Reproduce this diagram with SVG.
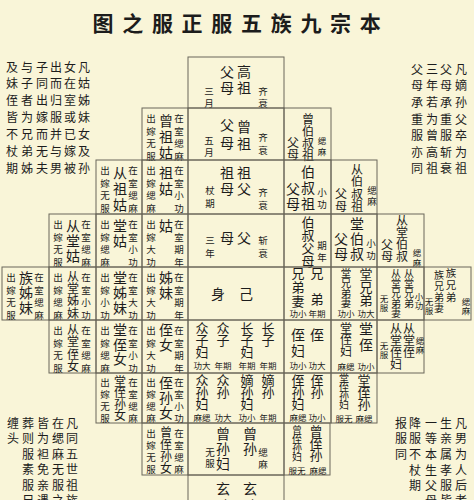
<svg xmlns="http://www.w3.org/2000/svg" width="474" height="500" viewBox="0 0 474 500">
<style>
.c{fill:none;stroke:#6a675a;stroke-width:1}
text{font-family:"Noto Sans CJK SC","Noto Sans CJK TC",sans-serif;fill:#1c1c1c;text-anchor:middle;dominant-baseline:central}
.ti{font-size:21px;font-weight:700}
.b{font-size:14px}
.k{font-size:13px}
.m{font-size:12px}
.q{font-size:10.5px}
.r{font-size:10px}
.s{font-size:9.5px}
.h{font-size:8.5px}
.n{font-size:12px}
</style>
<rect width="474" height="500" fill="#F9F5D8"/>
<text class="ti" x="103 132.7 162.4 192.1 221.8 251.5 281.2 310.9 340.6 370.3" y="22 22 22 22 22 22 22 22 22 22">图之服正服五族九宗本</text>

<g id="notes">
<text class="n" x="84 84 84 84 84 84 84" y="66 82.5 99 116 133 150 167">凡姑姊妹女及孙</text>
<text class="n" x="70 70 70 70 70 70 70" y="66 82.5 99 116 133 150 167">女在室或已嫁被</text>
<text class="n" x="56 56 56 56 56 56 56" y="66 82.5 99 116 133 150 167">出而归服并与男</text>
<text class="n" x="42 42 42 42 42 42 42" y="66 82.5 99 116 133 150 167">子同出嫁而无夫</text>
<text class="n" x="27 27 27 27 27 27 27" y="66 82.5 99 116 133 150 167">与子者为兄弟姊</text>
<text class="n" x="12 12 12 12 12 12 12" y="66 82.5 99 116 133 150 167">及妹侄皆不杖期</text>
<text class="n" x="461 461 461 461 461 461 461" y="68 84.5 101 118 134.5 151 167.5">凡嫡孙父卒为祖</text>
<text class="n" x="446 446 446 446 446 446 446" y="68 84.5 101 118 134.5 151 167.5">父母承重服斩衰</text>
<text class="n" x="432 432 432 432 432 432 432" y="68 84.5 101 118 134.5 151 167.5">三年若为曾高祖</text>
<text class="n" x="417 417 417 417 417 417 417" y="68 84.5 101 118 134.5 151 167.5">父母承重服亦同</text>
<text class="n" x="72 72 72 72 72 72" y="422 437.5 453 468.5 484 499.5">凡同五世祖族</text>
<text class="n" x="58 58 58 58 58 58" y="422 437.5 453 468.5 484 499.5">在缌麻无服之</text>
<text class="n" x="43 43 43 43 43 43" y="422 437.5 453 468.5 484 499.5">皆为袒免亲遇</text>
<text class="n" x="28 28 28 28 28 28" y="422 437.5 453 468.5 484 499.5">葬则服素服尺</text>
<text class="n" x="13 13" y="422 437.5">缠头</text>
<text class="n" x="461 461 461 461 461 461" y="422 437.5 453 469 484.5 499.5">凡男为人后者</text>
<text class="n" x="446 446 446 446 446 446" y="422 437.5 453 469 484.5 499.5">生亲属孝服皆</text>
<text class="n" x="431 431 431 431 431 431" y="422 437.5 453 469 484.5 499.5">一等本生父母</text>
<text class="n" x="415 415 415 415 415" y="422 437.5 453 469 484.5">降服不杖期</text>
<text class="n" x="401 401 401" y="422 437.5 453">报服同</text>
</g>

<g id="connectors"></g>

<!-- left side: female relatives -->
<g id="zengzugu"><rect class="c" x="142" y="108" width="46" height="52"/>
<text class="s" x="151 151 151 151" y="118 130.5 143 155.5">出嫁无服</text>
<text class="b" x="166 166 166" y="120 136 152">曾祖姑</text>
<text class="s" x="179 179 179 179" y="118 130.5 143 155.5">在室缌麻</text></g>

<g id="congzugu"><rect class="c" x="96" y="160" width="46" height="54"/>
<text class="s" x="105 105 105 105" y="170 182.5 195 207.5">出嫁无服</text>
<text class="b" x="120 120 120" y="172 188 204">从祖姑</text>
<text class="s" x="133 133 133 133" y="170 182.5 195 207.5">在室缌麻</text></g>

<g id="zugu"><rect class="c" x="142" y="160" width="46" height="54"/>
<text class="s" x="151 151 151 151" y="170 182.5 195 207.5">出嫁缌麻</text>
<text class="b" x="166 166" y="172 188">祖姑</text>
<text class="s" x="179 179 179 179" y="170 182.5 195 207.5">在室小功</text></g>

<g id="congtanggu"><rect class="c" x="49" y="214" width="47" height="53"/>
<text class="s" x="58 58 58 58" y="224 236.5 249 261.5">出嫁无服</text>
<text class="b" x="73 73 73" y="225 240 255">从堂姑</text>
<text class="s" x="86 86 86 86" y="224 236.5 249 261.5">在室缌麻</text></g>

<g id="tanggu"><rect class="c" x="96" y="214" width="46" height="53"/>
<text class="s" x="105 105 105 105" y="224 236.5 249 261.5">出嫁缌麻</text>
<text class="b" x="120 120" y="225 240">堂姑</text>
<text class="s" x="133 133 133 133" y="224 236.5 249 261.5">在室小功</text></g>

<g id="gu"><rect class="c" x="142" y="214" width="46" height="53"/>
<text class="s" x="151 151 151 151" y="224 236.5 249 261.5">出嫁大功</text>
<text class="b" x="166" y="225">姑</text>
<text class="s" x="179 179 179 179" y="224 236.5 249 261.5">在室期年</text></g>

<g id="zuzimei"><rect class="c" x="2" y="267" width="47" height="53"/>
<text class="s" x="11 11 11 11" y="277 289.5 302 314.5">出嫁无服</text>
<text class="b" x="26 26 26" y="277 292 307">族姊妹</text>
<text class="s" x="39 39 39 39" y="277 289.5 302 314.5">在室缌麻</text></g>

<g id="congtangzimei"><rect class="c" x="49" y="267" width="47" height="53"/>
<text class="s" x="58 58 58 58" y="277 289.5 302 314.5">出嫁缌麻</text>
<text class="m" x="73 73 73 73" y="275 287 299.5 312">从堂姊妹</text>
<text class="s" x="86 86 86 86" y="277 289.5 302 314.5">在室小功</text></g>

<g id="tangzimei"><rect class="c" x="96" y="267" width="46" height="53"/>
<text class="s" x="105 105 105 105" y="277 289.5 302 314.5">出嫁小功</text>
<text class="b" x="120 120 120" y="277 292 307">堂姊妹</text>
<text class="s" x="133 133 133 133" y="277 289.5 302 314.5">在室大功</text></g>

<g id="zimei"><rect class="c" x="142" y="267" width="46" height="53"/>
<text class="s" x="151 151 151 151" y="277 289.5 302 314.5">出嫁大功</text>
<text class="b" x="166 166" y="277 292">姊妹</text>
<text class="s" x="179 179 179 179" y="277 289.5 302 314.5">在室期年</text></g>

<g id="congtangzhinv"><rect class="c" x="49" y="320" width="47" height="53"/>
<text class="s" x="58 58 58 58" y="330 342.5 355 367.5">出嫁无服</text>
<text class="m" x="73 73 73 73" y="328 340.5 353 365.5">从堂侄女</text>
<text class="s" x="86 86 86 86" y="330 342.5 355 367.5">在室缌麻</text></g>

<g id="tangzhinv"><rect class="c" x="96" y="320" width="46" height="53"/>
<text class="s" x="105 105 105 105" y="330 342.5 355 367.5">出嫁缌麻</text>
<text class="b" x="120 120 120" y="329 343.5 358">堂侄女</text>
<text class="s" x="133 133 133 133" y="330 342.5 355 367.5">在室小功</text></g>

<g id="zhinv"><rect class="c" x="142" y="320" width="46" height="53"/>
<text class="s" x="151 151 151 151" y="330 342.5 355 367.5">出嫁大功</text>
<text class="b" x="166 166" y="329 344">侄女</text>
<text class="s" x="179 179 179 179" y="330 342.5 355 367.5">在室期年</text></g>

<g id="tangzhisunnv"><rect class="c" x="96" y="373" width="46" height="50"/>
<text class="s" x="105 105 105 105" y="382 394 406 418">出嫁无服</text>
<text class="m" x="120 120 120 120" y="380 391.5 403 414.5">堂侄孙女</text>
<text class="s" x="133 133 133 133" y="382 394 406 418">在室缌麻</text></g>

<g id="zhisunnv"><rect class="c" x="142" y="373" width="46" height="50"/>
<text class="s" x="151 151 151 151" y="382 394 406 418">出嫁缌麻</text>
<text class="b" x="166 166 166" y="382 397 412">侄孙女</text>
<text class="s" x="179 179 179 179" y="382 394 406 418">在室小功</text></g>

<g id="zengzhisunnv"><rect class="c" x="142" y="423" width="46" height="52"/>
<text class="s" x="151 151 151 151" y="433 445 457 469">出嫁无服</text>
<text class="m" x="166 166 166 166" y="431 443 455 467">曾侄孙女</text>
<text class="s" x="179 179 179 179" y="433 445 457 469">在室缌麻</text></g>

<!-- centre column -->
<g id="gaozu"><rect class="c" x="188" y="57" width="96" height="51"/>
<text class="b" x="244 244" y="71 87">高祖</text>
<text class="b" x="227 227" y="71 87">父母</text>
<text class="s" x="263 263" y="91 103">齐衰</text>
<text class="s" x="209 209" y="91 103">三月</text></g>

<g id="zengzu"><rect class="c" x="188" y="108" width="96" height="52"/>
<text class="b" x="244 244" y="126 143">曾祖</text>
<text class="b" x="227 227" y="124 142">父母</text>
<text class="s" x="263 263" y="137 150">齐衰</text>
<text class="s" x="209 209" y="140 152">五月</text></g>

<g id="zu"><rect class="c" x="188" y="160" width="96" height="54"/>
<text class="b" x="244 244" y="172 188">祖父</text>
<text class="b" x="227 227" y="172 188">祖母</text>
<text class="s" x="263 263" y="192 205">齐衰</text>
<text class="s" x="210 210" y="190 203">杖期</text></g>

<g id="fumu"><rect class="c" x="188" y="214" width="96" height="53"/>
<text class="b" x="244" y="237">父</text>
<text class="b" x="227" y="237">母</text>
<text class="s" x="263 263" y="240 253">斩衰</text>
<text class="s" x="210 210" y="240 253">三年</text></g>

<g id="shenji"><rect class="c" x="188" y="267" width="96" height="53"/>
<text class="b" x="218" y="293">身</text>
<text class="b" x="246" y="293">己</text></g>

<g id="zi"><rect class="c" x="188" y="320" width="96" height="53"/>
<text class="k" x="202 202 202" y="327 339 351">众子妇</text>
<text class="k" x="223 223" y="327 339">众子</text>
<text class="k" x="247 247 247" y="327 339 351">长子妇</text>
<text class="k" x="268 268" y="327 339">长子</text>
<text class="h" x="202" y="365">功大</text>
<text class="h" x="223" y="365">年期</text>
<text class="h" x="247" y="365">年期</text>
<text class="h" x="268" y="365">年期</text></g>

<g id="sun"><rect class="c" x="188" y="373" width="96" height="50"/>
<text class="k" x="202 202 202" y="379 391 403">众孙妇</text>
<text class="k" x="223 223" y="379 391">众孙</text>
<text class="k" x="247 247 247" y="379 391 403">嫡孙妇</text>
<text class="k" x="268 268" y="379 391">嫡孙</text>
<text class="h" x="202" y="417">麻缌</text>
<text class="h" x="223" y="417">功大</text>
<text class="h" x="247" y="417">功小</text>
<text class="h" x="268" y="417">年期</text></g>

<g id="zengsun"><rect class="c" x="188" y="423" width="96" height="52"/>
<text class="b" x="223 223 223" y="433 448 463">曾孙妇</text>
<text class="s" x="210 210" y="452 463">无服</text>
<text class="b" x="250 250" y="433 448">曾孙</text>
<text class="s" x="263 263" y="452 464">缌麻</text></g>

<g id="xuansun"><rect class="c" x="188" y="475" width="96" height="40"/>
<text class="b" x="223 223" y="488 505">玄孙</text>
<text class="b" x="250 250" y="488 505">玄孙</text></g>

<!-- right side: male relatives -->
<g id="zengboshuzu"><rect class="c" x="284" y="108" width="47" height="52"/>
<text class="m" x="308 308 308 308" y="118 130 142 154">曾伯叔祖</text>
<text class="m" x="293 293" y="141 153">父母</text>
<text class="h" x="322 322" y="140 151">缌麻</text></g>

<g id="boshuzu"><rect class="c" x="284" y="160" width="47" height="54"/>
<text class="b" x="308 308 308" y="171 187 203">伯叔祖</text>
<text class="b" x="293 293" y="188 203">父母</text>
<text class="s" x="322 322" y="192 204">小功</text></g>

<g id="congboshuzu"><rect class="c" x="331" y="160" width="46" height="54"/>
<text class="m" x="357 357 357 357" y="168 180.5 193 205.5">从伯叔祖</text>
<text class="m" x="341 341" y="192 205">父母</text>
<text class="s" x="372 372" y="190 201">缌麻</text></g>

<g id="boshufu"><rect class="c" x="284" y="214" width="47" height="53"/>
<text class="k" x="308 308 308 308" y="221 234 247 260">伯叔父母</text>
<text class="s" x="322 322" y="245 257">期年</text></g>

<g id="tangboshu"><rect class="c" x="331" y="214" width="46" height="53"/>
<text class="b" x="357 357 357" y="223 238 253">堂伯叔</text>
<text class="b" x="341 341" y="238 253">父母</text>
<text class="s" x="371 371" y="243 255">小功</text></g>

<g id="congtangboshu"><rect class="c" x="377" y="214" width="47" height="53"/>
<text class="m" x="402 402 402 402" y="219 231 243 255">从堂伯叔</text>
<text class="m" x="387 387" y="243 255">父母</text>
<text class="h" x="417 417" y="252 262">缌麻</text></g>

<g id="xiongdi"><rect class="c" x="284" y="267" width="47" height="53"/>
<text class="k" x="298 298 298" y="272 286 300">兄弟妻</text>
<text class="k" x="317 317" y="272 298">兄弟</text>
<text class="h" x="298" y="313">功小</text>
<text class="h" x="317" y="313">年期</text></g>

<g id="tangxiongdi"><rect class="c" x="331" y="267" width="46" height="53"/>
<text class="q" x="346 346 346 346" y="272 282 292 302">堂兄弟妻</text>
<text class="k" x="366 366 366" y="273 286 299">堂兄弟</text>
<text class="h" x="346" y="313">功小</text>
<text class="h" x="366" y="313">功大</text></g>

<g id="congtangxiongdi"><rect class="c" x="377" y="267" width="47" height="53"/>
<text class="r" x="409 409 409 409" y="272 282 292 302">从堂兄弟</text>
<text class="r" x="396 396 396 396 396" y="272 282 292 302 312">从堂兄弟妻</text>
<text class="h" x="384 384" y="298 307">无服</text>
<text class="h" x="419 419" y="296 305">小功</text></g>

<g id="zuxiongdi"><rect class="c" x="424" y="267" width="47" height="53"/>
<text class="q" x="451 451 451" y="272 284 296">族兄弟</text>
<text class="r" x="439 439 439 439" y="274 285 296 307">族兄弟妻</text>
<text class="h" x="429 429" y="301 310">无服</text>
<text class="h" x="466 466" y="301 310">缌麻</text></g>

<g id="zhi"><rect class="c" x="284" y="320" width="47" height="53"/>
<text class="b" x="298 298" y="334 350">侄妇</text>
<text class="b" x="317" y="334">侄</text>
<text class="h" x="298" y="365">功小</text>
<text class="h" x="317" y="365">功大</text></g>

<g id="tangzhi"><rect class="c" x="331" y="320" width="46" height="53"/>
<text class="m" x="346 346 346" y="327 338.5 350">堂侄妇</text>
<text class="b" x="366 366" y="328 344">堂侄</text>
<text class="h" x="346" y="365.5">麻缌</text>
<text class="h" x="366" y="365.5">功小</text></g>

<g id="congtangzhi"><rect class="c" x="377" y="320" width="47" height="53"/>
<text class="m" x="409 409 409" y="327 339 351">从堂侄</text>
<text class="m" x="396 396 396 396" y="327 339 351 363">从堂侄妇</text>
<text class="h" x="384 384" y="345 354">无服</text>
<text class="h" x="420 420" y="340 349">缌麻</text></g>

<g id="zhisun"><rect class="c" x="284" y="373" width="47" height="50"/>
<text class="k" x="298 298 298" y="379 391 403">侄孙妇</text>
<text class="k" x="317 317" y="379 391">侄孙</text>
<text class="h" x="298" y="417">麻缌</text>
<text class="h" x="317" y="417">功小</text></g>

<g id="tangzhisun"><rect class="c" x="331" y="373" width="46" height="50"/>
<text class="r" x="344 344 344 344" y="377 386 395 404">堂侄孙妇</text>
<text class="k" x="364 364 364" y="379 391 403">堂侄孙</text>
<text class="h" x="344" y="418">服无</text>
<text class="h" x="364" y="418">麻缌</text></g>

<g id="zengzhisun"><rect class="c" x="284" y="423" width="46" height="52"/>
<text class="r" x="297 297 297 297" y="429 438 447 456">曾侄孙妇</text>
<text class="k" x="316 316 316" y="430 442 454">曾侄孙</text>
<text class="h" x="297" y="470">服无</text>
<text class="h" x="318" y="470">麻缌</text></g>
</svg>
